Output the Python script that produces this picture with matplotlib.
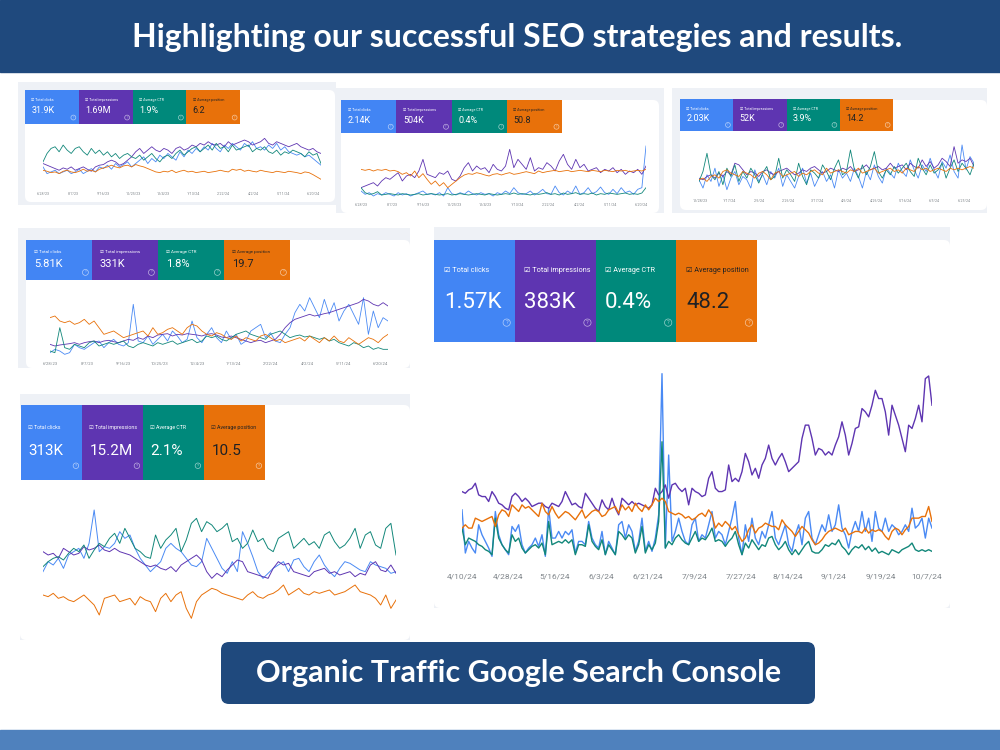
import numpy as np
import pandas as pd
import matplotlib
matplotlib.use("Agg")
import matplotlib.pyplot as plt
import matplotlib.dates as mdates
from matplotlib.patches import Rectangle, FancyBboxPatch, Circle

plt.rcParams['font.family'] = ['Roboto', 'DejaVu Sans']
FAM = ['Roboto', 'DejaVu Sans']

W, H = 1000, 750

title = "Highlighting our successful SEO strategies and results."
subtitle = "Organic Traffic Google Search Console"

metric_names = ["Total clicks", "Total impressions", "Average CTR", "Average position"]
tile_colors = ["#4285f4", "#5e35b1", "#00897b", "#e8710a"]
tile_text = ["white", "white", "white", "#202124"]
line_colors = ["#4a8af4", "#5e35b1", "#12877a", "#e8710a"]

# ---- panel 1 (Jun 2023 - Jun 2024) ----
p1_totals = ["31.9K", "1.69M", "1.9%", "6.2"]
p1_clicks = [45, 25, 30, 35, 25, 30, 35, 25, 30, 38, 25, 32, 40, 30, 45, 40, 50, 38, 55, 45, 52, 60, 45, 55, 65, 75, 55, 70, 60, 80,
             70, 85, 75, 65, 90, 75, 95, 85, 100, 90, 105, 95, 115, 100, 90, 110, 100, 115, 105, 95, 115, 105, 120, 100, 105, 95, 110, 100, 115, 95,
             105, 90, 85, 80, 85, 75, 80, 70, 60, 50]
p1_impr = [55, 50, 45, 40, 35, 42, 38, 45, 35, 40, 45, 38, 32, 45, 50, 52, 60, 65, 60, 50, 55, 65, 75, 90, 100, 85, 95, 105, 95, 90,
           100, 95, 85, 100, 105, 95, 100, 110, 105, 115, 110, 120, 112, 110, 115, 105, 120, 110, 115, 120, 125, 120, 110, 115, 120, 130, 115, 110, 120, 115,
           110, 105, 110, 115, 105, 100, 95, 100, 90, 85]
p1_ctr = [60, 85, 100, 105, 90, 110, 95, 85, 100, 105, 90, 80, 100, 85, 95, 80, 90, 75, 85, 70, 80, 85, 75, 70, 80, 65, 75, 85, 70, 60,
          75, 80, 70, 85, 95, 80, 90, 100, 105, 90, 100, 110, 95, 115, 100, 105, 90, 110, 95, 100, 105, 110, 90, 100, 95, 105, 90, 85, 95, 80,
          90, 85, 95, 90, 85, 75, 90, 80, 85, 55]
p1_pos = [35, 32, 28, 30, 25, 32, 35, 30, 28, 32, 38, 32, 35, 30, 38, 42, 45, 50, 45, 42, 48, 50, 45, 52, 48, 45, 40, 35, 30, 28,
          32, 30, 35, 28, 32, 35, 30, 32, 28, 30, 32, 28, 30, 32, 35, 32, 30, 38, 35, 38, 32, 35, 32, 30, 35, 32, 30, 28, 32, 30,
          28, 32, 30, 28, 25, 30, 28, 22, 15, 8]

# ---- panel 2 (Jun 2023 - Jun 2024) ----
p2_totals = ["2.14K", "504K", "0.4%", "50.8"]
p2_clicks = [30, 20, 25, 15, 22, 18, 25, 20, 15, 25, 18, 22, 15, 20, 25, 30, 20, 22, 18, 25, 15, 40, 22, 18, 25, 20, 30, 22, 18, 25,
             20, 22, 15, 25, 20, 30, 22, 40, 25, 20, 22, 30, 18, 25, 35, 22, 20, 45, 25, 18, 30, 22, 45, 20, 25, 40, 22, 28, 42, 25,
             20, 35, 22, 40, 25, 30, 20, 35, 40, 165]
p2_impr = [40, 45, 50, 55, 45, 60, 70, 65, 75, 85, 60, 75, 80, 70, 90, 125, 80, 75, 70, 85, 80, 90, 65, 60, 75, 100, 115, 90, 105, 95,
           100, 85, 110, 95, 90, 105, 155, 100, 125, 110, 95, 130, 90, 100, 95, 115, 105, 90, 120, 140, 110, 95, 125, 100, 110, 90, 95, 100, 85, 95,
           90, 100, 85, 95, 80, 90, 85, 95, 80, 105]
p2_ctr = [40, 25, 20, 22, 28, 18, 20, 22, 20, 18, 22, 20, 18, 20, 22, 18, 20, 22, 20, 18, 20, 22, 18, 20, 22, 20, 18, 20, 22, 20,
          18, 22, 20, 18, 20, 22, 20, 24, 20, 22, 20, 18, 22, 20, 22, 25, 20, 22, 18, 24, 20, 22, 25, 20, 22, 20, 24, 18, 22, 20,
          24, 22, 20, 22, 24, 20, 22, 20, 24, 40]
p2_pos = [95, 92, 95, 90, 94, 92, 95, 90, 92, 88, 80, 85, 75, 90, 70, 82, 65, 50, 60, 45, 55, 40, 50, 60, 70, 78, 82, 80, 85, 82,
          78, 75, 80, 82, 78, 82, 85, 80, 82, 85, 88, 85, 82, 90, 85, 88, 90, 92, 88, 90, 92, 88, 90, 92, 90, 88, 92, 90, 88, 92,
          90, 88, 92, 90, 92, 88, 90, 92, 90, 95]

# ---- panel 3 (Dec 2023 - Jun 2024) ----
p3_totals = ["2.03K", "52K", "3.9%", "14.2"]
p3_clicks = [55, 30, 70, 50, 90, 35, 70, 25, 60, 80, 40, 65, 55, 30, 85, 50, 70, 40, 80, 60, 90, 35, 70, 50, 30, 65, 90, 45, 75, 35,
             60, 80, 50, 70, 30, 85, 60, 75, 50, 90, 65, 30, 80, 55, 100, 65, 45, 90, 75, 60, 105, 80, 65, 115, 85, 60, 100, 80, 120, 85,
             60, 110, 90, 130, 80, 60, 160, 85, 125, 105]
p3_impr = [60, 55, 65, 70, 60, 75, 65, 80, 70, 105, 100, 85, 70, 80, 75, 65, 80, 85, 75, 70, 80, 85, 90, 80, 70, 75, 85, 80, 90, 95,
           85, 75, 80, 90, 85, 80, 90, 85, 95, 80, 85, 90, 100, 85, 90, 95, 85, 90, 105, 90, 95, 100, 85, 105, 95, 90, 115, 95, 110, 90,
           100, 120, 110, 95, 155, 105, 115, 110, 120, 95]
p3_ctr = [50, 80, 135, 70, 55, 80, 40, 90, 65, 100, 50, 80, 60, 90, 70, 45, 75, 95, 55, 65, 120, 60, 85, 70, 50, 105, 65, 40, 85, 75,
          60, 100, 80, 55, 90, 115, 70, 80, 145, 85, 60, 100, 70, 95, 140, 80, 60, 85, 70, 95, 75, 90, 105, 80, 65, 120, 90, 70, 100, 75,
          85, 105, 60, 90, 115, 80, 105, 90, 70, 105]
p3_pos = [55, 60, 50, 65, 70, 60, 80, 85, 75, 70, 65, 80, 75, 70, 60, 75, 80, 70, 55, 75, 80, 65, 70, 75, 80, 65, 75, 70, 80, 85,
          75, 70, 90, 75, 80, 85, 80, 75, 85, 80, 90, 75, 80, 85, 90, 75, 80, 85, 90, 80, 85, 75, 90, 85, 80, 95, 85, 90, 80, 85,
          90, 85, 80, 90, 85, 90, 85, 90, 95, 90]

# ---- panel 4 (Jun 2023 - Jun 2024) ----
p4_totals = ["5.81K", "331K", "1.8%", "19.7"]
p4_clicks = [25, 35, 30, 20, 25, 50, 40, 35, 45, 55, 60, 40, 55, 65, 50, 45, 55, 170, 60, 55, 75, 50, 65, 80, 60, 90, 75, 55, 65, 120,
             70, 55, 80, 100, 70, 55, 90, 65, 80, 50, 60, 90, 100, 110, 70, 85, 60, 55, 80, 100, 145, 170, 150, 190, 160, 130, 185, 140, 175, 120,
             150, 170, 140, 110, 190, 80, 150, 100, 130, 120]
p4_impr = [50, 45, 48, 50, 52, 55, 50, 55, 58, 60, 55, 60, 62, 58, 55, 60, 65, 62, 70, 65, 75, 70, 78, 80, 82, 75, 80, 78, 82, 80,
           78, 75, 80, 82, 78, 72, 70, 75, 70, 65, 60, 55, 60, 62, 55, 60, 65, 80, 100, 115, 125, 130, 135, 140, 135, 138, 142, 145, 150, 155,
           160, 165, 170, 175, 185, 180, 170, 165, 175, 165]
p4_ctr = [30, 25, 100, 40, 35, 50, 45, 40, 55, 60, 45, 50, 55, 50, 55, 60, 45, 40, 50, 55, 50, 45, 55, 50, 55, 60, 50, 55, 60, 65,
          55, 60, 75, 70, 75, 65, 60, 70, 80, 85, 90, 80, 75, 70, 65, 80, 85, 90, 80, 70, 75, 78, 72, 75, 70, 65, 70, 60, 65, 55,
          50, 45, 55, 50, 40, 45, 35, 40, 35, 35]
p4_pos = [130, 135, 120, 115, 120, 110, 115, 125, 110, 120, 100, 80, 85, 90, 80, 70, 75, 80, 85, 90, 75, 100, 80, 85, 95, 100, 90, 80, 100, 110,
          105, 90, 80, 75, 85, 80, 70, 65, 75, 60, 70, 65, 60, 75, 80, 70, 60, 65, 55, 60, 65, 70, 60, 75, 65, 55, 70, 60, 75, 60,
          55, 70, 60, 50, 60, 70, 65, 55, 70, 80]

# ---- panel 5 (Apr 2024 - Oct 2024) ----
p5_totals = ["1.57K", "383K", "0.4%", "48.2"]
p5_clicks = [14.5, 1.5, 5, 3, 1.5, 10, 7, 5, 3, 0.5, 14, 7, 4, 2.5, 1, 9.5, 8, 10, 4, 1.5, 3, 4, 6, 3.5, 7, 0.5, 15, 6, 6, 8,
             6, 8, 7, 8.5, 1.5, 5, 5, 4, 11, 6, 4, 3, 8, 1, 5, 3, 1, 10, 11, 6, 10, 8, 2, 5, 12, 2, 5, 2, 6, 13,
             55.5, 3, 31, 5, 8, 12, 8, 5, 4, 10, 12, 5, 7, 6, 10, 14, 6, 8, 7, 4, 8, 12, 17, 6, 1, 10, 5, 12, 6, 4,
             8, 6, 10, 14, 6, 4, 7, 10, 4, 2, 7, 10, 4, 12, 14, 6, 4, 7, 10, 8, 13, 8, 10, 16, 9, 7, 3, 8, 11, 8,
             14, 8, 12, 5, 14, 9, 8, 12, 8, 10, 9, 7, 8, 10, 8, 15, 9, 10, 12, 6, 12, 9]
p5_impr = [20, 19.5, 20.5, 21, 22.5, 19, 18.5, 18.5, 17, 20, 18.5, 16.5, 16, 15, 14.5, 18.5, 19.5, 18.5, 17, 18,
           17, 15.5, 16, 16.5, 16.5, 15.5, 15, 16.5, 16, 15.5, 17, 20, 18, 16, 16.5, 15.5, 15, 19.5, 18, 16.5,
           15, 14, 17.5, 15.5, 14.5, 18, 15, 13, 18, 17, 16, 17, 16, 16.5, 16, 15.5, 15, 16,
           21, 19, 20, 22, 18, 22, 22.5, 21, 20, 21, 16, 21, 20, 19.5, 18.5, 19, 24, 26, 21, 20,
           20, 20.5, 28, 23, 24, 23, 26, 31.5, 29, 25, 27, 24, 28, 30, 34, 30, 28, 30, 31.5, 29,
           26, 27, 28, 29, 36, 40, 40, 36, 31, 33, 32.5, 31, 32, 31, 34, 36.5, 41, 37, 31, 34.5,
           39, 39.5, 45, 44, 42.5, 46, 50.5, 48, 48, 44, 37, 46, 43, 40, 36, 32, 40, 39, 42, 46,
           41, 54, 54.8, 46]
p5_ctr = [9, 4, 6, 5.5, 5, 4, 3.5, 2.5, 2, 1, 12, 6, 4, 2.5, 1.5, 7, 5, 6, 3, 1.5, 2.5, 3.5, 4, 3, 4.5, 1, 11, 4, 4.5, 5,
          4.5, 5.5, 4.5, 5.5, 1, 4, 4, 3.5, 10, 5, 3.5, 2.5, 5.5, 1, 4, 2.5, 1, 8, 7, 5.5, 7, 6, 1.5, 4, 9.5, 1.5, 4, 2.5, 4.5, 11,
          35, 3, 5, 4, 6, 7, 5.5, 4.5, 4, 6, 8, 5, 6, 5.5, 7, 9, 5, 5.5, 5, 3.5, 5, 6, 8, 4, 1, 4.5, 3, 5.5, 4, 2.5,
          4, 3.5, 6, 6.5, 4, 2.5, 3.5, 5, 2.5, 1, 2.5, 1, 2.5, 4, 5, 2, 1.5, 1.5, 2.5, 4, 3.5, 4.5, 4, 5.5, 3.5, 2.5,
          1, 2.5, 3.5, 3, 4, 2.5, 3.5, 2, 3, 1.5, 2, 1.5, 1, 2.5, 2, 1.5, 2.5, 3, 3.5, 4.5, 2.5, 2, 2.5, 2, 2.5, 2]
p5_pos = [9, 10, 9, 9, 12, 11.5, 11, 11.5, 12, 12.5, 9.5, 13, 14.5, 14, 12.5, 16, 15, 14, 16, 15, 15.5, 14.5, 13.5, 12.5, 16.5, 14, 13, 15.5, 13.5, 12,
          13, 14, 13.5, 12.5, 11.5, 13, 14.5, 12, 13, 14, 14.5, 14, 12.5, 13, 14.5, 15, 15.5, 13.5, 16, 14.5, 15.5, 14, 16.5, 15, 14, 16, 14.5, 16, 18, 17,
          18, 17, 14, 13.5, 13, 13.5, 13, 12, 12.5, 11.5, 12, 13, 13.5, 12.5, 14.5, 13, 9, 10.5, 9.5, 11, 10, 8.5, 9.5, 7, 5, 6, 8.5, 10, 7.5, 9,
          9.5, 10.5, 10, 9.5, 9.5, 8.5, 11.5, 10, 9, 8, 6.5, 8, 9.5, 8.5, 7.5, 5.5, 4, 4.5, 5.5, 7, 8, 8.5, 9, 8.5, 8, 9,
          7, 7.5, 8, 8, 7.5, 9, 7.5, 8.5, 8, 8.5, 8, 6.5, 5.5, 8, 9, 8.5, 7, 8.5, 9.5, 12, 12, 12, 12.5, 12.5, 15.5, 11]

# ---- panel 6 ----
p6_totals = ["313K", "15.2M", "2.1%", "10.5"]
p6_clicks = [160, 190, 180, 200, 170, 210, 220, 230, 200, 245, 345, 220, 235, 230, 245, 280, 260, 270, 230, 200, 180, 160, 175, 190, 230, 245, 230, 220, 200, 180,
             175, 190, 260, 230, 200, 170, 155, 190, 160, 280, 245, 205, 160, 140, 155, 170, 180, 190, 160, 195, 200, 175, 160, 190, 210, 180, 160, 145, 170, 190,
             185, 175, 165, 160, 190, 180, 175, 170, 155, 160]
p6_impr = [220, 210, 215, 200, 230, 220, 210, 215, 235, 225, 230, 240, 225, 220, 230, 220, 215, 210, 200, 190, 180, 175, 180, 170, 165, 175, 160, 180, 190, 200,
           210, 195, 160, 140, 155, 145, 165, 180, 195, 190, 160, 155, 150, 145, 140, 170, 190, 180, 185, 160, 155, 150, 145, 160, 165, 170, 155, 160, 150, 155,
           160, 145, 155, 150, 180, 190, 165, 160, 180, 155]
p6_ctr = [175, 190, 200, 205, 195, 215, 230, 220, 240, 200, 225, 245, 235, 260, 275, 245, 290, 260, 230, 220, 205, 200, 270, 230, 255, 270, 290, 220, 255, 305,
          320, 280, 310, 300, 280, 290, 305, 250, 260, 230, 245, 285, 250, 260, 230, 220, 260, 270, 280, 230, 245, 260, 240, 250, 230, 270, 280, 250, 230, 240,
          260, 290, 230, 270, 280, 240, 230, 290, 305, 210]
p6_pos = [90, 85, 95, 80, 85, 75, 70, 80, 90, 75, 60, 30, 80, 85, 90, 70, 75, 80, 60, 85, 75, 70, 40, 80, 95, 70, 90, 100, 50, 20,
          70, 90, 100, 110, 105, 95, 90, 85, 80, 75, 90, 100, 85, 80, 90, 95, 105, 120, 90, 100, 110, 95, 90, 100, 95, 100, 105, 90, 95, 100,
          110, 120, 100, 95, 90, 80, 60, 90, 50, 75]

# x tick labels
ticks_year = ["6/28/23", "8/7/23", "9/16/23", "10/25/23", "12/4/23", "1/13/24", "2/22/24", "4/2/24", "5/11/24", "6/20/24"]
ticks_half = ["12/28/23", "1/17/24", "2/6/24", "2/26/24", "3/17/24", "4/6/24", "4/26/24", "5/16/24", "6/5/24", "6/25/24"]
ticks_p5 = ["4/10/24", "4/28/24", "5/16/24", "6/3/24", "6/21/24", "7/9/24", "7/27/24", "8/14/24", "9/1/24", "9/19/24", "10/7/24"]


def frac(x, y, w, h):
    return [x / W, 1 - (y + h) / H, w / W, h / H]


fig = plt.figure(figsize=(10, 7.5), dpi=100)
bg = fig.add_axes([0, 0, 1, 1])
bg.set_xlim(0, W)
bg.set_ylim(H, 0)
bg.axis('off')

# header, footer
bg.add_patch(Rectangle((0, 0), W, 72, color='#1f497d'))
bg.text(517, 37, title, color='white', fontsize=23, fontweight='bold', family=['Lato', 'DejaVu Sans'],
        ha='center', va='center')
bg.add_patch(FancyBboxPatch((221, 642), 594, 62, boxstyle='round,pad=0,rounding_size=8',
                            fc='#1f497d', ec='none'))
bg.text(519, 673, subtitle, color='white', fontsize=22, fontweight='bold', family=['Lato', 'DejaVu Sans'],
        ha='center', va='center')
bg.add_patch(Rectangle((0, 730), W, 20, color='#4f81bd'))


def panel(outer, card, tiles, plot, totals, series, ymax, span, ticks,
          lab_fs, val_fs, lw, tick_fs, tick_pad):
    bg.add_patch(Rectangle(outer[:2], outer[2], outer[3], fc='#eef1f6', ec='none'))
    bg.add_patch(FancyBboxPatch(card[:2], card[2], card[3], boxstyle='round,pad=0,rounding_size=6',
                                fc='white', ec='none'))
    tx, ty, tw4, th = tiles
    tw = tw4 / 4
    for i, (name, val) in enumerate(zip(metric_names, totals)):
        x0 = tx + i * tw
        bg.add_patch(Rectangle((x0, ty), tw, th, fc=tile_colors[i], ec='none'))
        bg.text(x0 + 0.12 * tw, ty + 0.3 * th, "\u2611 " + name, color=tile_text[i],
                fontsize=lab_fs, family=FAM, ha='left', va='center')
        bg.text(x0 + 0.12 * tw, ty + 0.61 * th, val, color=tile_text[i],
                fontsize=val_fs, family=FAM, ha='left', va='center')
        r = 0.045 * tw
        cx, cy = x0 + 0.9 * tw, ty + 0.81 * th
        bg.add_patch(Circle((cx, cy), r, fill=False, ec='white', alpha=0.6, lw=0.5))
        bg.text(cx, cy, "?", color='white', alpha=0.6, fontsize=lab_fs * 0.8, ha='center', va='center')

    ax = fig.add_axes(frac(*plot))
    ax.patch.set_alpha(0)
    for s in ax.spines.values():
        s.set_visible(False)
    if span is None:
        start, end = 0.0, 1.0
    else:
        start, end = mdates.date2num(pd.to_datetime(span))
    for vals, color in zip(series, line_colors):
        xs = np.linspace(start, end, len(vals))
        ax.plot(xs, vals, color=color, lw=lw)
    ax.set_xlim(start, end)
    ax.set_ylim(0, ymax)
    ax.set_yticks([])
    if ticks:
        pos = mdates.date2num(pd.to_datetime(ticks, format='%m/%d/%y'))
        ax.set_xticks(pos)
        ax.set_xticklabels(ticks, fontsize=tick_fs, color='#80868b', family=FAM)
        ax.tick_params(axis='x', length=0, pad=tick_pad)
    else:
        ax.set_xticks([])
    return ax


panel((18, 82, 318, 123), (25, 90, 310, 112), (25, 90, 215, 34), (43, 135, 278, 47),
      p1_totals, [p1_clicks, p1_impr, p1_ctr, p1_pos], 140, ['2023-06-28', '2024-06-30'],
      ticks_year, 2.6, 6.5, 0.6, 2.6, 7)

panel((336, 88, 328, 125), (341, 100, 318, 113), (341, 100, 221, 33), (361, 141, 285, 60),
      p2_totals, [p2_clicks, p2_impr, p2_ctr, p2_pos], 180, ['2023-06-28', '2024-06-26'],
      ticks_year, 2.6, 6.5, 0.6, 2.6, 1.5)

panel((672, 88, 315, 125), (680, 100, 307, 110), (680, 99, 213, 32), (699, 140, 275, 58),
      p3_totals, [p3_clicks, p3_impr, p3_ctr, p3_pos], 175, ['2023-12-27', '2024-07-02'],
      ticks_half, 2.6, 6.5, 0.6, 2.6, 1)

panel((18, 228, 392, 140), (26, 240, 384, 128), (26, 240, 264, 40), (50, 291, 338, 70),
      p4_totals, [p4_clicks, p4_impr, p4_ctr, p4_pos], 210, ['2023-06-28', '2024-06-28'],
      ticks_year, 3.2, 8, 0.6, 3, 1)

panel((434, 227, 516, 381), (434, 240, 516, 368), (434, 240, 323, 102), (462, 372, 470, 186),
      p5_totals, [p5_clicks, p5_impr, p5_ctr, p5_pos], 56, ['2024-04-10', '2024-10-09'],
      ticks_p5, 5.2, 16, 1.0, 6, 11)

panel((20, 394, 390, 246), (20, 405, 390, 235), (21, 405, 244, 75), (43, 505, 353, 120),
      p6_totals, [p6_clicks, p6_impr, p6_ctr, p6_pos], 360, None,
      None, 3.8, 11, 0.7, 5, 1)

fig.savefig("out.png", dpi=100)
